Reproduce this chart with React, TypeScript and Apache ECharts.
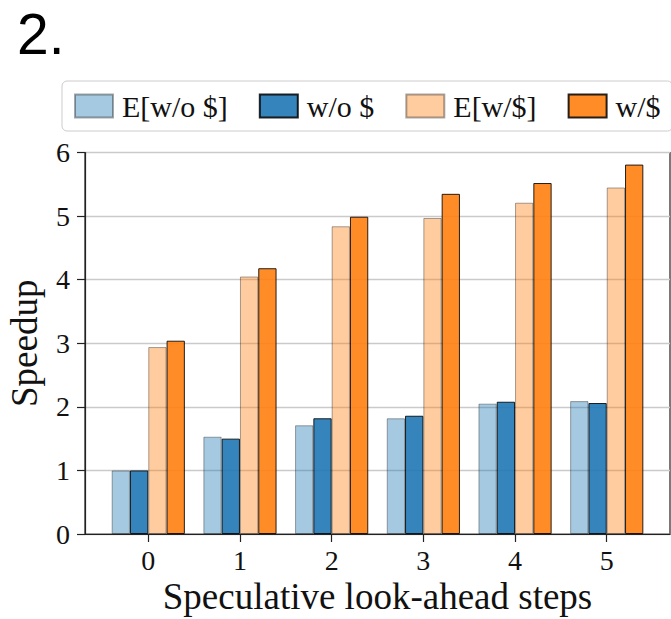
import React, { useEffect, useRef } from "react";
import * as echarts from "echarts";

const steps = [0, 1, 2, 3, 4, 5];
const stepLabels = ["0", "1", "2", "3", "4", "5"];
const expWithout = [1.0, 1.53, 1.71, 1.82, 2.05, 2.09];
const actWithout = [1.0, 1.5, 1.82, 1.86, 2.08, 2.06];
const expWith = [2.94, 4.05, 4.84, 4.97, 5.21, 5.45];
const actWith = [3.04, 4.18, 4.99, 5.35, 5.52, 5.81];
const seriesNames = ["E[w/o $]", "w/o $", "E[w/$]", "w/$"];
const yTicks = [0, 1, 2, 3, 4, 5, 6];

const SERIF = "'Liberation Serif', 'Times New Roman', serif";

export default function App() {
  const ref = useRef<HTMLDivElement>(null);
  useEffect(() => {
    document.body.style.margin = "0";
    if (!ref.current) return;
    const chart = echarts.init(ref.current, undefined, { renderer: "svg" });
    const mk = (name: string, vals: number[], fill: string, edge: string) => ({
      name,
      type: "bar",
      data: steps.map((s, i) => [s, vals[i]]),
      barWidth: 18.3,
      barGap: "0%",
      itemStyle: { color: fill, borderColor: edge, borderWidth: 1 },
    });
    chart.setOption({
      animation: false,
      textStyle: { fontFamily: SERIF },
      graphic: [
        {
          type: "text",
          x: 17,
          y: 34,
          style: {
            text: "2.",
            font: "57px 'Liberation Sans', Arial, sans-serif",
            fill: "#000",
            verticalAlign: "middle",
          },
        },
      ],
      legend: {
        left: 62,
        top: 81,
        width: 800,
        orient: "horizontal",
        data: seriesNames,
        icon: "rect",
        itemWidth: 38,
        itemHeight: 23,
        itemGap: 31,
        padding: [10, 12, 10, 12],
        borderColor: "#cccccc",
        borderWidth: 1,
        borderRadius: 5,
        backgroundColor: "rgba(255,255,255,0.8)",
        textStyle: { fontFamily: SERIF, fontSize: 30, color: "#111", padding: [0, 0, 0, 4] },
      },
      grid: {
        left: 85,
        right: 1,
        top: 152.5,
        bottom: 85,
        outerBoundsMode: "none",
        containLabel: false,
        show: true,
        borderColor: "#222",
        borderWidth: 1.2,
        backgroundColor: "transparent",
      },
      xAxis: {
        type: "value",
        min: -0.69,
        max: 5.69,
        name: "Speculative look-ahead steps",
        nameLocation: "middle",
        nameGap: 44,
        nameMoveOverlap: false,
        nameTextStyle: { fontFamily: SERIF, fontSize: 37, color: "#111" },
        axisLine: { show: true, onZero: false, lineStyle: { color: "#222", width: 1.2 } },
        axisTick: { show: true, customValues: steps, length: 8, lineStyle: { color: "#222", width: 1.2 } },
        axisLabel: {
          customValues: steps,
          formatter: (v: number) => stepLabels[Math.round(v)] ?? "",
          fontFamily: SERIF,
          fontSize: 28,
          color: "#111",
          margin: 12,
        },
        splitLine: { show: false },
      },
      yAxis: {
        type: "value",
        min: 0,
        max: 6,
        interval: 1,
        name: "Speedup",
        nameLocation: "middle",
        nameGap: 42,
        nameMoveOverlap: false,
        nameTextStyle: { fontFamily: SERIF, fontSize: 37, color: "#111" },
        axisLine: { show: true, onZero: false, lineStyle: { color: "#222", width: 1.2 } },
        axisTick: { show: true, length: 8, lineStyle: { color: "#222", width: 1.2 } },
        axisLabel: {
          formatter: (v: number) => (yTicks.includes(v) ? String(v) : ""),
          fontFamily: SERIF,
          fontSize: 28,
          color: "#111",
          margin: 15,
        },
        splitLine: { show: true, lineStyle: { color: "#cacaca", width: 1.3 } },
      },
      series: [
        mk(seriesNames[0], expWithout, "rgba(31,119,180,0.4)", "rgba(0,0,0,0.35)"),
        mk(seriesNames[1], actWithout, "rgba(31,119,180,0.9)", "rgba(0,0,0,0.85)"),
        mk(seriesNames[2], expWith, "rgba(255,127,14,0.4)", "rgba(0,0,0,0.35)"),
        mk(seriesNames[3], actWith, "rgba(255,127,14,0.9)", "rgba(0,0,0,0.85)"),
      ],
    });
    return () => chart.dispose();
  }, []);
  return <div ref={ref} style={{ width: 671, height: 619 }} />;
}
